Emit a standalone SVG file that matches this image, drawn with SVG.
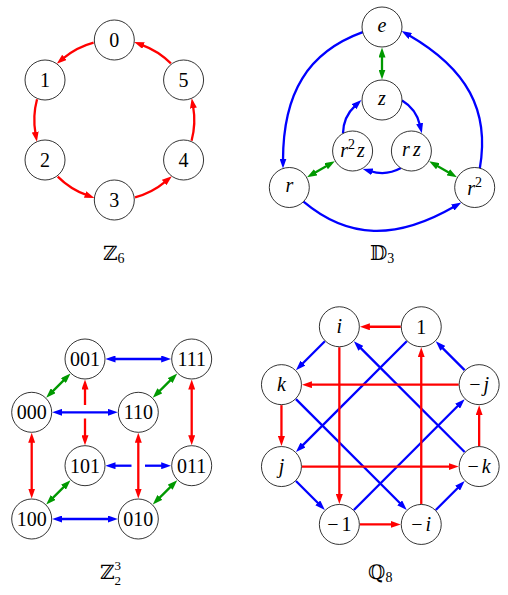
<svg xmlns="http://www.w3.org/2000/svg" width="508" height="595" viewBox="0 0 508 595">
<style>
.nd circle{fill:#fff;stroke:#000;stroke-width:0.8}
.t{font-family:"Liberation Serif",serif;font-size:20px;text-anchor:middle;fill:#000}
.m{font-style:italic}
.lbl{font-family:"DejaVu Serif","DejaVu Sans",serif;font-size:20px;fill:#000}
.sub{font-family:"Liberation Serif",serif;font-size:14px}
.sup{font-family:"Liberation Serif",serif;font-size:13px}
.e{fill:none;stroke-width:2.3}
.r{stroke:#ff0000;marker-end:url(#aR)}
.b{stroke:#0000ff;marker-end:url(#aB)}
.g{stroke:#009900;marker-end:url(#aG);marker-start:url(#aG)}
.rr{stroke:#ff0000;marker-end:url(#aR);marker-start:url(#aR)}
.bb{stroke:#0000ff;marker-end:url(#aB);marker-start:url(#aB)}
</style>
<defs>
<marker id="aR" viewBox="0 0 10 7" refX="2" refY="3.5" markerWidth="10" markerHeight="7" markerUnits="userSpaceOnUse" orient="auto-start-reverse"><path d="M0,0 L10,3.5 L0,7 z" fill="#ff0000"/></marker>
<marker id="aB" viewBox="0 0 10 7" refX="2" refY="3.5" markerWidth="10" markerHeight="7" markerUnits="userSpaceOnUse" orient="auto-start-reverse"><path d="M0,0 L10,3.5 L0,7 z" fill="#0000ff"/></marker>
<marker id="aG" viewBox="0 0 10 7" refX="2" refY="3.5" markerWidth="10" markerHeight="7" markerUnits="userSpaceOnUse" orient="auto-start-reverse"><path d="M0,0 L10,3.5 L0,7 z" fill="#009900"/></marker>
</defs>

<g id="connectors" class="e">
<!-- Z6 -->
<path class="e r" d="M93.59,42.73 A80,80 0 0 0 62.88,58.72"/>
<path class="e r" d="M37.03,99.29 A80,80 0 0 0 35.52,133.89"/>
<path class="e r" d="M57.73,176.57 A80,80 0 0 0 86.94,195.18"/>
<path class="e r" d="M135.01,197.27 A80,80 0 0 0 165.72,181.28"/>
<path class="e r" d="M191.57,140.71 A80,80 0 0 0 193.08,106.11"/>
<path class="e r" d="M170.87,63.43 A80,80 0 0 0 141.66,44.82"/>
<!-- D3 outer -->
<path class="e b" d="M362.7,32.2 C307.7,52.2 283,93 283,160.5"/>
<path class="e b" d="M362.7,32.2 C307.7,52.2 283,93 283,160.5" transform="rotate(-120 382 134)"/>
<path class="e b" d="M362.7,32.2 C307.7,52.2 283,93 283,160.5" transform="rotate(120 382 134)"/>
<!-- D3 inner -->
<path class="e b" d="M402.09,100.57 A39,39 0 0 1 420.04,125.39"/>
<path class="e b" d="M402.09,100.57 A39,39 0 0 1 420.04,125.39" transform="rotate(120 382 134)"/>
<path class="e b" d="M402.09,100.57 A39,39 0 0 1 420.04,125.39" transform="rotate(240 382 134)"/>
<!-- D3 green -->
<path class="e g" d="M382,55.5 V71.5"/>
<path class="e g" d="M313.99,173.26 L327.91,165.24"/>
<path class="e g" d="M436.09,165.24 L450.01,173.26"/>
<!-- cube -->
<path class="e bb" d="M113.5,359 H163.2"/>
<path class="e bb" d="M60.2,412.3 H109.8"/>
<path class="e bb" d="M60.2,519 H109.8"/>
<path class="e b" style="marker-start:url(#aB);marker-end:none" d="M113.5,465.7 H131.5"/>
<path class="e b" d="M145,465.7 H163.2"/>
<path class="e rr" d="M31.7,440.8 V490.5"/>
<path class="e r" style="marker-start:url(#aR);marker-end:none" d="M85,387.5 V405"/>
<path class="e r" d="M85,418.5 V437.2"/>
<path class="e rr" d="M138.3,440.8 V490.5"/>
<path class="e rr" d="M191.7,387.5 V437.2"/>
<path class="e g" d="M51.85,392.15 L64.85,379.15"/>
<path class="e g" d="M158.45,392.15 L171.55,379.15"/>
<path class="e g" d="M51.85,498.85 L64.85,485.85"/>
<path class="e g" d="M158.45,498.85 L171.55,485.85"/>
<!-- Q8 blue -->
<path class="e b" d="M324.85,341.25 L301.6,364.5"/>
<path class="e b" d="M406.75,341.25 L301.6,446.4"/>
<path class="e b" d="M295.95,399.15 L401.1,504.3"/>
<path class="e b" d="M295.95,481.05 L319.2,504.3"/>
<path class="e b" d="M353.85,509.95 L459,404.8"/>
<path class="e b" d="M435.75,509.95 L459,486.7"/>
<path class="e b" d="M464.65,452.05 L359.5,346.9"/>
<path class="e b" d="M464.65,370.15 L441.4,346.9"/>
<!-- Q8 red -->
<path class="e r" d="M400.75,326.75 H367.85"/>
<path class="e r" d="M339.35,347.25 V495.95"/>
<path class="e r" d="M359.85,524.45 H392.75"/>
<path class="e r" d="M421.25,503.95 V355.25"/>
<path class="e r" d="M458.65,384.65 H309.95"/>
<path class="e r" d="M281.45,405.15 V438.05"/>
<path class="e r" d="M301.95,466.55 H450.65"/>
<path class="e r" d="M479.15,446.05 V413.15"/>
</g>

<!-- Z6 nodes -->
<g id="z6-0" class="nd"><circle cx="114.3" cy="40" r="20"/><text class="t" x="114.3" y="46.8">0</text></g>
<g id="z6-1" class="nd"><circle cx="45.02" cy="80" r="20"/><text class="t" x="45.02" y="86.8">1</text></g>
<g id="z6-2" class="nd"><circle cx="45.02" cy="160" r="20"/><text class="t" x="45.02" y="166.8">2</text></g>
<g id="z6-3" class="nd"><circle cx="114.3" cy="200" r="20"/><text class="t" x="114.3" y="206.8">3</text></g>
<g id="z6-4" class="nd"><circle cx="183.58" cy="160" r="20"/><text class="t" x="183.58" y="166.8">4</text></g>
<g id="z6-5" class="nd"><circle cx="183.58" cy="80" r="20"/><text class="t" x="183.58" y="86.8">5</text></g>

<!-- D3 nodes -->
<g id="d3-e" class="nd"><circle cx="382" cy="27" r="20"/><text class="t m" x="382" y="31.5">e</text></g>
<g id="d3-z" class="nd"><circle cx="382" cy="100" r="20"/><text class="t m" x="382" y="104.5">z</text></g>
<g id="d3-r2z" class="nd"><circle cx="352.6" cy="151" r="20"/><text class="t" x="352.6" y="157.3"><tspan class="m">r</tspan><tspan font-size="14" dy="-8">2</tspan><tspan class="m" dx="2" dy="8">z</tspan></text></g>
<g id="d3-rz" class="nd"><circle cx="411.4" cy="151" r="20"/><text class="t m" x="411.4" y="155.5">r<tspan dx="3">z</tspan></text></g>
<g id="d3-r" class="nd"><circle cx="289.3" cy="187.5" r="20"/><text class="t m" x="289.3" y="192">r</text></g>
<g id="d3-r2" class="nd"><circle cx="474.7" cy="187.5" r="20"/><text class="t" x="474.7" y="194.5"><tspan class="m">r</tspan><tspan font-size="14" dy="-8">2</tspan></text></g>

<!-- Z2^3 nodes -->
<g id="c-001" class="nd"><circle cx="85" cy="359" r="20"/><text class="t" x="85" y="365.8">001</text></g>
<g id="c-111" class="nd"><circle cx="191.7" cy="359" r="20"/><text class="t" x="191.7" y="365.8">111</text></g>
<g id="c-000" class="nd"><circle cx="31.7" cy="412.3" r="20"/><text class="t" x="31.7" y="419.1">000</text></g>
<g id="c-110" class="nd"><circle cx="138.3" cy="412.3" r="20"/><text class="t" x="138.3" y="419.1">110</text></g>
<g id="c-101" class="nd"><circle cx="85" cy="465.7" r="20"/><text class="t" x="85" y="472.5">101</text></g>
<g id="c-011" class="nd"><circle cx="191.7" cy="465.7" r="20"/><text class="t" x="191.7" y="472.5">011</text></g>
<g id="c-100" class="nd"><circle cx="31.7" cy="519" r="20"/><text class="t" x="31.7" y="525.8">100</text></g>
<g id="c-010" class="nd"><circle cx="138.3" cy="519" r="20"/><text class="t" x="138.3" y="525.8">010</text></g>

<!-- Q8 nodes -->
<g id="q-1" class="nd"><circle cx="421.25" cy="326.75" r="20"/><text class="t" x="421.25" y="333.5">1</text></g>
<g id="q-i" class="nd"><circle cx="339.35" cy="326.75" r="20"/><text class="t m" x="339.35" y="333.3">i</text></g>
<g id="q-k" class="nd"><circle cx="281.45" cy="384.65" r="20"/><text class="t m" x="281.45" y="391.4">k</text></g>
<g id="q-j" class="nd"><circle cx="281.45" cy="466.55" r="20"/><text class="t m" x="281.45" y="472.5">j</text></g>
<g id="q-m1" class="nd"><circle cx="339.35" cy="524.45" r="20"/><text class="t" x="339.35" y="531">−<tspan dx="3">1</tspan></text></g>
<g id="q-mi" class="nd"><circle cx="421.25" cy="524.45" r="20"/><text class="t" x="421.25" y="531">−<tspan class="m" dx="3">i</tspan></text></g>
<g id="q-mk" class="nd"><circle cx="479.15" cy="466.55" r="20"/><text class="t" x="479.15" y="473">−<tspan class="m" dx="3">k</tspan></text></g>
<g id="q-mj" class="nd"><circle cx="479.15" cy="384.65" r="20"/><text class="t" x="479.15" y="391">−<tspan class="m" dx="3">j</tspan></text></g>

<!-- labels -->
<text class="lbl" x="103" y="260">ℤ<tspan class="sub" dy="3">6</tspan></text>
<text class="lbl" x="370" y="260">𝔻<tspan class="sub" dy="3">3</tspan></text>
<text class="lbl" x="100" y="579">ℤ<tspan class="sup" dy="5.5">2</tspan><tspan class="sup" dx="-6.5" dy="-15">3</tspan></text>
<text class="lbl" x="368" y="579">ℚ<tspan class="sub" dy="3">8</tspan></text>
</svg>
